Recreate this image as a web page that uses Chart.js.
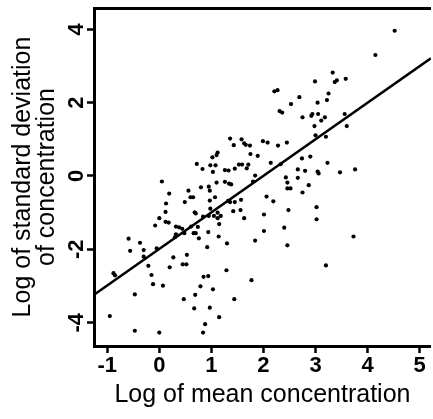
<!DOCTYPE html>
<html>
<head>
<meta charset="utf-8">
<script src="https://cdn.jsdelivr.net/npm/chart.js@4.4.1/dist/chart.umd.min.js"></script>
<style>
  html, body { margin: 0; padding: 0; background: #ffffff; }
  #wrap { width: 433px; height: 419px; position: relative; }
</style>
</head>
<body>
<div id="wrap"><canvas id="c" width="433" height="419"></canvas></div>
<script>
// ---- Data ----
const scatterX = [
  4.52, 4.15, 3.33, 2.99, 3.37, 3.41, 3.58, 2.21, 2.27, 3.25,
  2.69, 2.53, 3.04, 3.22, 2.31, 2.36, 2.92, 2.94, 3.05, 2.75,
  3.18, 3.11, 3.56, 2.98, 3.60, 3.00, 3.20, 1.36, 1.58, 1.63,
  1.66, 1.43, 1.74, 1.99, 2.08, 2.28, 2.45, 1.12, 1.10, 1.02,
  1.75, 1.89, 2.74, 2.90, 0.72, 0.98, 1.08, 1.53, 1.59, 1.71,
  2.14, 2.33, 3.23, 0.83, 1.03, 1.26, 1.33, 1.45, 1.68, 1.84,
  2.66, 2.80, 3.04, 3.06, 3.47, 3.76, 0.05, 0.95, 1.10, 1.26,
  1.34, 1.38, 1.80, 2.43, 2.46, 2.46, 2.52, 2.66, 2.87, 2.75,
  0.56, 0.80, 0.97, 0.60, 0.65, 1.07, 0.19, 0.49, 0.13, 0.97,
  1.32, 1.36, 1.57, 1.45, 2.06, 2.19, 1.56, 2.48, 3.02, 0.12,
  0.68, 0.70, 0.98, 1.12, 1.42, 0.00, 0.12, 0.18, -0.08, 1.63,
  0.84, 0.95, 1.05, 1.12, 1.18, 2.01, 3.02, 0.32, 0.38, 0.44,
  0.61, 0.74, 0.66, 0.70, 1.15, 0.94, 0.76, 1.14, 2.01, 2.40,
  0.32, 0.30, 0.48, 1.84, 3.73, -0.59, -0.37, -0.56, -0.30, -0.30,
  -0.05, 1.30, 0.92, 2.46, 0.27, 0.53, 0.45, 0.52, -0.21, 0.20,
  3.20, -0.88, -0.85, -0.15, 1.29, 0.85, 0.94, -0.12, 0.07, 0.79,
  1.77, 1.03, -0.47, 0.69, 0.47, 1.44, 0.67, 0.97, -0.95, 1.15,
  0.88, -0.47, 0.00, 0.84
];
const scatterY = [
  3.96, 3.30, 2.82, 2.58, 2.56, 2.61, 2.65, 2.31, 2.34, 2.25,
  2.15, 1.96, 2.00, 2.07, 1.77, 1.73, 1.64, 1.69, 1.69, 1.60,
  1.60, 1.51, 1.69, 1.36, 1.36, 1.11, 1.07, 1.02, 1.00, 0.89,
  0.85, 0.84, 0.83, 0.95, 0.91, 0.83, 0.91, 0.64, 0.57, 0.51,
  0.60, 0.55, 0.48, 0.53, 0.33, 0.29, 0.29, 0.31, 0.31, 0.31,
  0.36, 0.32, 0.36, 0.19, 0.11, 0.16, 0.15, 0.20, 0.21, 0.01,
  0.18, 0.14, 0.12, 0.07, 0.10, 0.18, -0.15, -0.29, -0.18, -0.16,
  -0.21, -0.23, -0.15, -0.04, -0.18, -0.34, -0.34, -0.05, -0.25, -0.45,
  -0.40, -0.31, -0.40, -0.58, -0.58, -0.58, -0.48, -0.71, -0.75, -0.67,
  -0.68, -0.71, -0.65, -0.71, -0.56, -0.69, -0.93, -0.93, -0.85, -0.98,
  -0.99, -1.02, -0.89, -1.00, -0.96, -1.15, -1.25, -1.27, -1.35, -1.15,
  -1.11, -1.09, -1.09, -1.15, -1.09, -1.05, -1.18, -1.38, -1.40, -1.44,
  -1.38, -1.39, -1.56, -1.56, -1.31, -1.53, -1.70, -1.65, -1.50, -1.41,
  -1.59, -1.67, -1.56, -1.76, -1.65, -1.71, -1.82, -2.04, -2.02, -2.20,
  -1.97, -1.84, -1.94, -1.89, -2.22, -2.15, -2.41, -2.41, -2.45, -2.49,
  -2.44, -2.65, -2.71, -2.70, -2.57, -2.75, -2.73, -2.95, -2.99, -3.01,
  -2.84, -3.09, -3.23, -3.24, -3.36, -3.36, -3.61, -3.59, -3.82, -3.85,
  -4.04, -4.22, -4.27, -4.27
];
// fitted regression line end points (read at the plot edges)
const fitX = [-1.254, 5.216];
const fitY = [-3.24, 3.21];

const xTicks = [-1, 0, 1, 2, 3, 4, 5];
const yTicks = [-4, -2, 0, 2, 4];
const xRange = [-1.254, 5.216];
const yRange = [-4.636, 4.581];

const xTitle = 'Log of mean concentration';
const yTitle = ['Log of standard deviation', 'of concentration'];

// ---- Chart ----
const FONT = '"Liberation Sans", Arial, Helvetica, sans-serif';
const scatterData = scatterX.map((x, i) => ({ x: x, y: scatterY[i] }));
const fitData = fitX.map((x, i) => ({ x: x, y: fitY[i] }));

new Chart(document.getElementById('c'), {
  type: 'scatter',
  data: {
    datasets: [
      {
        data: scatterData,
        pointRadius: 2.1,
        pointHoverRadius: 2.1,
        pointBackgroundColor: '#000000',
        pointBorderWidth: 0,
        borderWidth: 0
      },
      {
        type: 'line',
        data: fitData,
        borderColor: '#000000',
        borderWidth: 2.6,
        pointRadius: 0,
        fill: false,
        tension: 0
      }
    ]
  },
  options: {
    responsive: false,
    animation: false,
    devicePixelRatio: 1,
    layout: { padding: { top: 8, right: 0, bottom: 0, left: 0 } },
    plugins: { legend: { display: false }, tooltip: { enabled: false } },
    scales: {
      x: {
        type: 'linear',
        position: 'bottom',
        min: xRange[0],
        max: xRange[1],
        afterBuildTicks: s => { s.ticks = xTicks.map(v => ({ value: v })); },
        afterFit: s => { s.height = 73; s.paddingLeft = 0; s.paddingRight = 0; },
        ticks: {
          autoSkip: false,
          maxRotation: 0,
          minRotation: 0,
          padding: 2,
          color: '#000000',
          font: { family: FONT, size: 22, weight: 'bold', lineHeight: 1 },
          callback: v => String(v)
        },
        grid: { drawOnChartArea: false, drawTicks: true, tickLength: 7, tickWidth: 2.5, tickColor: '#000000' },
        border: { display: true, width: 3, color: '#000000' },
        title: {
          display: true,
          text: xTitle,
          color: '#000000',
          font: { family: FONT, size: 25, lineHeight: 1 },
          padding: { top: 0, bottom: 11 }
        }
      },
      x2: {
        type: 'linear',
        position: 'top',
        display: true,
        min: 0,
        max: 1,
        afterBuildTicks: s => { s.ticks = []; },
        afterFit: s => { s.height = 0; s.paddingLeft = 0; s.paddingRight = 0; },
        ticks: { display: false },
        grid: { drawOnChartArea: false, drawTicks: false },
        border: { display: true, width: 3, color: '#000000' }
      },
      y: {
        type: 'linear',
        position: 'left',
        min: yRange[0],
        max: yRange[1],
        afterBuildTicks: s => { s.ticks = yTicks.map(v => ({ value: v })); },
        afterFit: s => { s.width = 94; s.paddingTop = 0; s.paddingBottom = 0; },
        ticks: {
          autoSkip: false,
          minRotation: 90,
          maxRotation: 90,
          crossAlign: 'center',
          padding: 0,
          color: '#000000',
          font: { family: FONT, size: 22, weight: 'bold', lineHeight: 1 },
          callback: v => String(v)
        },
        grid: { drawOnChartArea: false, drawTicks: true, tickLength: 7, tickWidth: 2.5, tickColor: '#000000' },
        border: { display: true, width: 3, color: '#000000' },
        title: {
          display: true,
          text: yTitle,
          color: '#000000',
          font: { family: FONT, size: 25, lineHeight: 0.96 },
          padding: { top: 11, bottom: 0 }
        }
      }
    }
  }
});
</script>
</body>
</html>
